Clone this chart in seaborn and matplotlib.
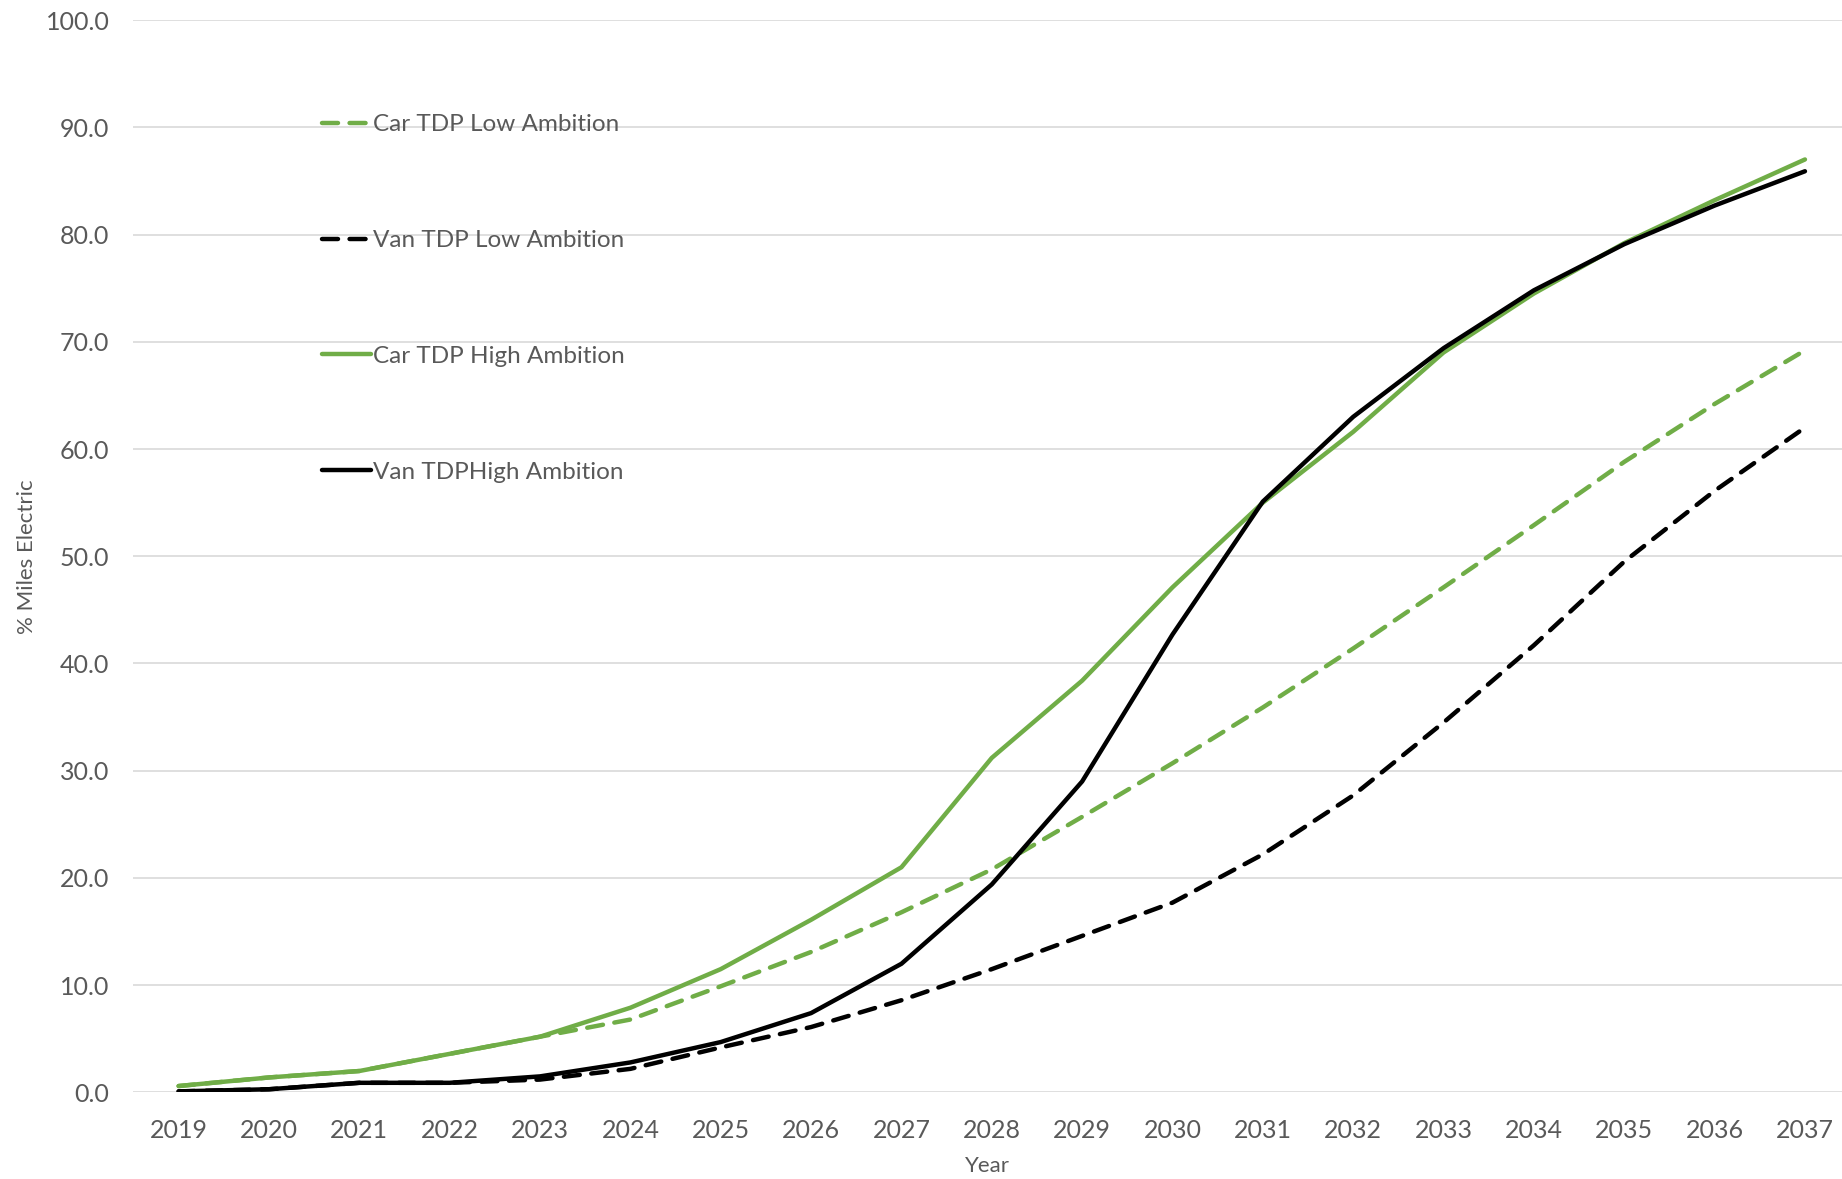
import pandas as pd
import matplotlib.pyplot as plt
import seaborn as sns
from matplotlib.ticker import FormatStrFormatter

years = list(range(2019, 2038))

car_low = [0.6, 1.4, 2.0, 3.6, 5.2, 6.8, 9.9, 13.1, 16.8, 20.8, 25.7, 30.7,
           35.9, 41.4, 47.1, 52.9, 58.8, 64.2, 69.2]
van_low = [0.1, 0.3, 0.9, 0.9, 1.2, 2.2, 4.2, 6.1, 8.6, 11.5, 14.6, 17.7,
           22.2, 27.7, 34.5, 41.7, 49.5, 56.1, 62.0]
car_high = [0.6, 1.4, 2.0, 3.6, 5.2, 7.9, 11.5, 16.1, 21.0, 31.2, 38.4, 47.1,
            55.0, 61.6, 69.0, 74.5, 79.2, 83.2, 87.0]
van_high = [0.1, 0.3, 0.9, 0.9, 1.5, 2.8, 4.7, 7.4, 12.0, 19.4, 29.0, 42.7,
            55.1, 63.0, 69.4, 74.8, 79.1, 82.7, 85.9]

series_names = ['Car TDP Low Ambition', 'Van TDP Low Ambition',
                'Car TDP High Ambition', 'Van TDPHigh Ambition']
series_values = [car_low, van_low, car_high, van_high]

GREEN = '#70AD47'
BLACK = '#000000'
TEXT = '#595959'
styles = {
    'Car TDP Low Ambition': (GREEN, (3.6, 2.6)),
    'Van TDP Low Ambition': (BLACK, (3.6, 2.6)),
    'Car TDP High Ambition': (GREEN, None),
    'Van TDPHigh Ambition': (BLACK, None),
}

df = pd.DataFrame({'Year': years})
for name, vals in zip(series_names, series_values):
    df[name] = vals

sns.set_theme(style="white")
plt.rcParams['font.family'] = ['Lato', 'DejaVu Sans']

fig = plt.figure(figsize=(18.42, 11.79), dpi=100)
ax = fig.add_axes([0.0722, 0.0734, 0.9278, 0.9096])

# draw each scenario; dashed = low ambition
for name in series_names:
    color, dash = styles[name]
    kw = {}
    if dash is not None:
        kw['dashes'] = dash
    sns.lineplot(data=df, x='Year', y=name, ax=ax, color=color,
                 linewidth=3.2, label=name, **kw)
    if dash is None:
        ax.lines[-1].set_linestyle('-')
    else:
        ax.lines[-1].set_dash_capstyle('round')

ax.set_xlim(2018.495, 2037.41)
ax.set_ylim(0, 100)
ax.set_xticks(years)
ax.set_xticklabels([str(y) for y in years])
ax.set_yticks(range(0, 101, 10))
ax.yaxis.set_major_formatter(FormatStrFormatter('%.1f'))
ax.grid(axis='y', color='#D9D9D9', linewidth=1.2)
ax.grid(axis='x', visible=False)
for s in ax.spines.values():
    s.set_visible(False)
ax.tick_params(axis='both', length=0, labelsize=18, labelcolor=TEXT)
ax.tick_params(axis='x', pad=19)
ax.tick_params(axis='y', pad=17)

ax.set_xlabel('Year', fontsize=16, color=TEXT, labelpad=10)
ax.set_ylabel('% Miles Electric', fontsize=16, color=TEXT, labelpad=6)

leg = ax.legend(loc='upper left', bbox_to_anchor=(0.175, 0.903),
                bbox_transform=fig.transFigure, frameon=False,
                fontsize=17.5, handlelength=2.0, handletextpad=0.1,
                labelspacing=3.9, borderpad=0, borderaxespad=0)
for t in leg.get_texts():
    t.set_color(TEXT)

fig.savefig('out.png', dpi=100)
